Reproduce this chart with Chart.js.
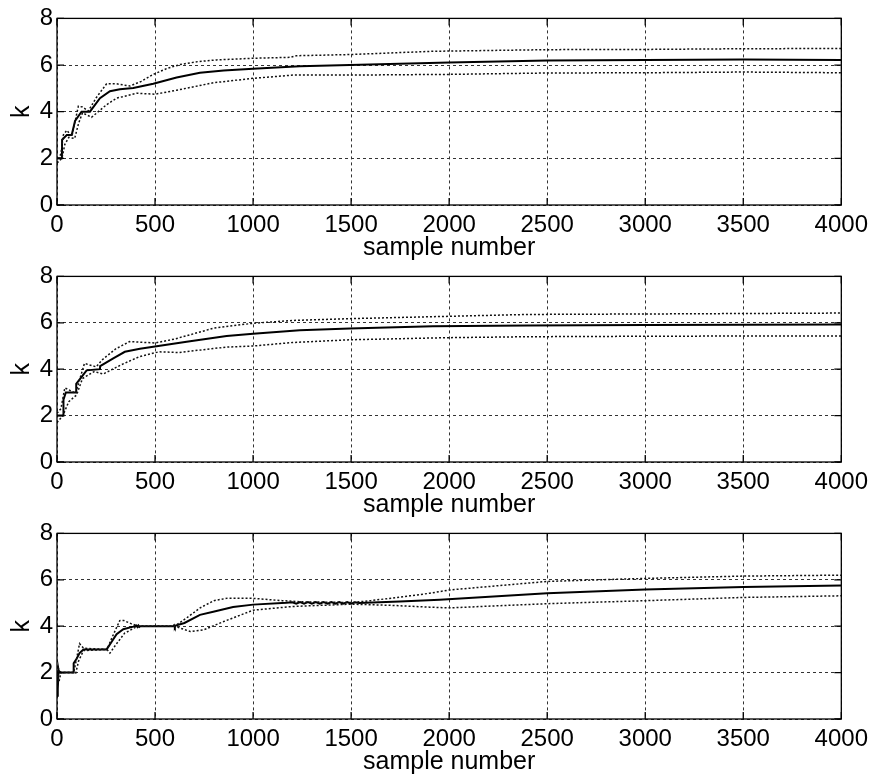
<!DOCTYPE html>
<html>
<head>
<meta charset="utf-8">
<script src="https://cdn.jsdelivr.net/npm/chart.js@4.4.1/dist/chart.umd.min.js"></script>
<style>
  body { margin: 0; background: #fff; }
  #wrap { position: relative; width: 874px; height: 784px; }
  canvas { position: absolute; left: 0; }
</style>
</head>
<body>
<div id="wrap">
  <canvas id="plot-top" width="874" height="270" style="top:0px"></canvas>
  <canvas id="plot-mid" width="874" height="269" style="top:258px"></canvas>
  <canvas id="plot-bot" width="874" height="269" style="top:515px"></canvas>
</div>
<script>
// axis ticks
const xTicks = [0, 500, 1000, 1500, 2000, 2500, 3000, 3500, 4000];
const yTicks = [0, 2, 4, 6, 8];

// top panel
const topMeanX = [0, 25, 26, 50, 75, 92, 125, 168, 219, 270, 321, 389, 491, 610, 729, 850, 1000, 1238, 1493, 2000, 2500, 3000, 3500, 4000];
const topMeanY = [2, 2, 2.8, 3, 3, 3.6, 4, 4, 4.58, 4.88, 4.96, 5.02, 5.2, 5.47, 5.67, 5.77, 5.84, 5.95, 6.0, 6.11, 6.19, 6.22, 6.24, 6.22];
const topUpperX = [0, 20, 32, 50, 76, 109, 130, 160, 200, 253, 300, 372, 430, 491, 560, 627, 720, 814, 1000, 1187, 1220, 1493, 1917, 2500, 3000, 3500, 4000];
const topUpperY = [1.8, 2.2, 3.0, 3.2, 2.94, 4.24, 4.2, 4.03, 4.6, 5.2, 5.2, 5.1, 5.3, 5.6, 5.85, 6.02, 6.15, 6.22, 6.29, 6.33, 6.4, 6.45, 6.59, 6.66, 6.67, 6.7, 6.71];
const topLowerX = [0, 25, 40, 60, 90, 110, 130, 176, 253, 304, 406, 500, 610, 797, 1000, 1204, 1500, 2000, 2500, 3000, 3500, 4000];
const topLowerY = [1.8, 2.0, 2.6, 2.9, 2.85, 3.5, 3.95, 3.76, 4.3, 4.58, 4.79, 4.75, 4.92, 5.24, 5.43, 5.57, 5.57, 5.6, 5.66, 5.67, 5.7, 5.67];

// middle panel
const midMeanX = [0, 32, 33, 45, 97, 98, 151, 219, 220, 287, 346, 423, 508, 661, 865, 1000, 1238, 1493, 1917, 2400, 3000, 3500, 4000];
const midMeanY = [2, 2, 2.69, 3.0, 3.0, 3.37, 3.95, 4.0, 4.13, 4.47, 4.75, 4.88, 4.99, 5.18, 5.43, 5.53, 5.68, 5.75, 5.85, 5.88, 5.9, 5.92, 5.93];
const midUpperX = [0, 20, 40, 95, 140, 200, 230, 300, 370, 500, 600, 800, 1000, 1200, 1500, 2000, 2400, 3000, 3500, 4000];
const midUpperY = [2.1, 2.3, 3.2, 2.96, 4.25, 4.1, 4.4, 4.88, 5.19, 5.13, 5.3, 5.77, 5.98, 6.1, 6.18, 6.28, 6.36, 6.38, 6.4, 6.42];
const midLowerX = [0, 30, 60, 100, 130, 190, 235, 330, 420, 520, 620, 860, 1000, 1200, 1500, 2000, 2400, 3000, 3500, 4000];
const midLowerY = [1.7, 2.0, 2.6, 2.89, 3.6, 3.9, 3.79, 4.2, 4.54, 4.75, 4.72, 4.95, 5.0, 5.15, 5.27, 5.36, 5.4, 5.42, 5.43, 5.43];

// bottom panel
const botMeanX = [0, 3, 5, 8, 10, 83, 85, 100, 115, 135, 253, 278, 304, 338, 389, 405, 410, 415, 420, 425, 593, 597, 601, 605, 650, 729, 797, 898, 1000, 1170,
  1200, 1220, 1240, 1260, 1280, 1300, 1320, 1340, 1360, 1380, 1400, 1420, 1440, 1460, 1480, 1500, 1520, 1540, 1748, 1952, 2500, 3000, 3500, 4000];
const botMeanY = [1.0, 1.8, 1.3, 2.1, 2.0, 2.0, 2.4, 2.6, 2.84, 3.0, 3.0, 3.32, 3.66, 3.87, 3.98, 4.03, 3.97, 4.03, 3.97, 4.0, 4.0, 4.04, 3.96, 4.03, 4.14, 4.49, 4.62, 4.83, 4.93, 5.01,
  5.03, 4.97, 5.04, 4.97, 5.04, 4.97, 5.04, 4.97, 5.04, 4.97, 5.04, 4.97, 5.04, 4.97, 5.04, 4.97, 5.03, 5.0, 5.06, 5.14, 5.42, 5.58, 5.69, 5.75];
const botUpperX = [0, 5, 12, 20, 85, 100, 115, 135, 255, 280, 320, 340, 380, 420, 600, 660, 730, 800, 870, 1000, 1150, 1250, 1500, 1600, 1800, 1901, 2000, 2500, 3000, 3500, 4000];
const botUpperY = [1.5, 2.2, 2.1, 2.0, 2.0, 2.6, 3.25, 3.05, 3.0, 3.5, 4.24, 4.25, 4.1, 4.0, 4.0, 4.35, 4.79, 5.1, 5.21, 5.2, 5.1, 5.05, 5.02, 5.1, 5.31, 5.42, 5.56, 5.93, 6.06, 6.16, 6.2];
const botLowerX = [0, 5, 10, 20, 85, 95, 110, 135, 255, 270, 300, 345, 400, 430, 600, 680, 750, 850, 1000, 1200, 1500, 1700, 1901, 2000, 2500, 3000, 3500, 4000];
const botLowerY = [1.2, 1.9, 1.6, 2.0, 2.0, 1.95, 2.5, 2.95, 3.0, 2.84, 3.2, 3.7, 3.95, 4.0, 4.0, 3.77, 3.85, 4.2, 4.69, 4.85, 4.95, 4.9, 4.82, 4.79, 4.97, 5.1, 5.24, 5.31];

const FONT = "'Liberation Sans', Arial, sans-serif";

// box around the axes with inward ticks on all four sides
const framePlugin = {
    id: 'frame',
    afterDraw(chart) {
        const { ctx, chartArea: a, scales } = chart;
        ctx.save();
        ctx.strokeStyle = '#000';
        ctx.lineWidth = 1.3;
        ctx.setLineDash([]);
        ctx.strokeRect(a.left, a.top, a.right - a.left, a.bottom - a.top);
        ctx.beginPath();
        xTicks.forEach(v => {
            const px = scales.x.getPixelForValue(v);
            ctx.moveTo(px, a.bottom); ctx.lineTo(px, a.bottom - 7);
            ctx.moveTo(px, a.top); ctx.lineTo(px, a.top + 7);
        });
        yTicks.forEach(v => {
            const py = scales.y.getPixelForValue(v);
            ctx.moveTo(a.left, py); ctx.lineTo(a.left + 7, py);
            ctx.moveTo(a.right, py); ctx.lineTo(a.right - 7, py);
        });
        ctx.stroke();
        ctx.restore();
    }
};

function points(xs, ys) {
    return xs.map((x, i) => ({ x: x, y: ys[i] }));
}

function dotted(data) {
    return {
        data: data,
        borderColor: '#111',
        borderWidth: 1.5,
        borderDash: [2, 2],
        pointRadius: 0,
        tension: 0
    };
}

function renderPanel(id, meanX, meanY, upX, upY, loX, loY) {
    const ctx = document.getElementById(id).getContext('2d');
    new Chart(ctx, {
        type: 'line',
        data: {
            datasets: [
                dotted(points(upX, upY)),
                dotted(points(loX, loY)),
                {
                    data: points(meanX, meanY),
                    borderColor: '#000',
                    borderWidth: 2,
                    pointRadius: 0,
                    tension: 0
                }
            ]
        },
        options: {
            responsive: false,
            animation: false,
            layout: { padding: { top: 10, right: 32, left: 0, bottom: 12 } },
            plugins: { legend: { display: false }, tooltip: { enabled: false } },
            scales: {
                x: {
                    type: 'linear',
                    min: 0,
                    max: 4000,
                    afterBuildTicks: s => { s.ticks = xTicks.map(v => ({ value: v })); },
                    afterFit: s => { s.height = 53; },
                    grid: { color: '#333', lineWidth: 1, drawTicks: false },
                    border: { display: false, dash: [3, 3] },
                    ticks: {
                        color: '#000',
                        padding: 6,
                        maxRotation: 0,
                        font: { family: FONT, size: 24 },
                        callback: v => String(v)
                    },
                    title: {
                        display: true,
                        text: 'sample number',
                        color: '#000',
                        padding: 0,
                        font: { family: FONT, size: 25, lineHeight: 0.8 }
                    }
                },
                y: {
                    min: 0,
                    max: 8,
                    afterBuildTicks: s => { s.ticks = yTicks.map(v => ({ value: v })); },
                    afterFit: s => { s.width = 57; },
                    grid: { color: '#333', lineWidth: 1, drawTicks: false },
                    border: { display: false, dash: [3, 3] },
                    ticks: { color: '#000', padding: 4, font: { family: FONT, size: 24 }, callback: v => String(v) },
                    title: {
                        display: true,
                        text: 'k',
                        color: '#000',
                        padding: { top: 10, bottom: 0 },
                        font: { family: FONT, size: 25, lineHeight: 1 }
                    }
                }
            }
        },
        plugins: [framePlugin]
    });
}

document.addEventListener('DOMContentLoaded', () => {
    renderPanel('plot-top', topMeanX, topMeanY, topUpperX, topUpperY, topLowerX, topLowerY);
    renderPanel('plot-mid', midMeanX, midMeanY, midUpperX, midUpperY, midLowerX, midLowerY);
    renderPanel('plot-bot', botMeanX, botMeanY, botUpperX, botUpperY, botLowerX, botLowerY);
});
</script>
</body>
</html>
